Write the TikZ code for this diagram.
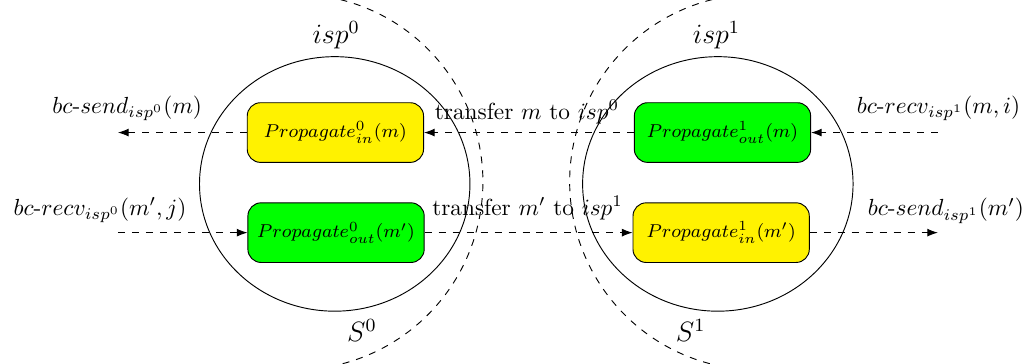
\documentclass[tikz,border=0pt]{standalone}
\usepackage{amsmath,amssymb}
\usepackage{tikz}
\usetikzlibrary{positioning,arrows.meta,calc}

\begin{document}
\begin{tikzpicture}[
    proc/.style={
        rectangle,
        rounded corners=2mm,
        draw,
        minimum width=2.66cm,
        minimum height=0.9cm,
        inner sep=1pt,
        font=\fontsize{8.4}{10}\selectfont
    },
    msg/.style={
        dashed,
        -{Latex[length=1.6mm,width=1.2mm]}
    },
    lbl/.style={
        inner sep=0pt
    },
    side/.style={
        inner sep=0pt,
        font=\large
    }
]
\useasboundingbox (0,0) rectangle (15.57,5.49);

% The two processes and their borders
\draw (5.05,2.715) ellipse (2.04 and 1.92);
\draw (10.83,2.715) ellipse (2.04 and 1.92);
\draw[dashed] ([shift={(76:2.835)}]4.45,2.745) arc (76:-76:2.835);
\draw[dashed] ([shift={(104:2.835)}]11.43,2.745) arc (104:256:2.835);

\node[side] (isp0) at (5.07,4.96) {$isp^0$};
\node[side] (isp1) at (10.81,4.96) {$isp^1$};
\node[side] (S0) at (5.46,0.51) {$S^0$};
\node[side] (S1) at (10.42,0.51) {$S^1$};

% The four propagation steps
\node[proc, fill=yellow] (in0)  at (5.06,3.49) {$Propagate^0_{in}(m)$};
\node[proc, fill=green]  (out0) at (5.07,1.98) {$Propagate^0_{out}(m')$};
\node[proc, fill=green]  (out1) at (10.90,3.49) {$Propagate^1_{out}(m)$};
\node[proc, fill=yellow] (in1)  at (10.88,1.98) {$Propagate^1_{in}(m')$};

% Free ends of the outer arrows
\coordinate (sendend0) at (1.78,3.49);
\coordinate (recvend0) at (1.78,1.98);
\coordinate (recvend1) at (14.15,3.49);
\coordinate (sendend1) at (14.15,1.98);

% Messages from right to left
\draw[msg] (recvend1) -- (out1);
\draw[msg] (out1) -- (in0);
\draw[msg] (in0) -- (sendend0);

% Messages from left to right
\draw[msg] (recvend0) -- (out0);
\draw[msg] (out0) -- (in1);
\draw[msg] (in1) -- (sendend1);

% Labels of the messages
\node[lbl] (sendlbl0) at (1.92,3.86) {$bc\text{-}send_{isp^0}(m)$};
\node[lbl] (recvlbl0) at (1.51,2.32) {$bc\text{-}recv_{isp^0}(m',j)$};
\node[lbl] (recvlbl1) at (14.16,3.86) {$bc\text{-}recv_{isp^1}(m,i)$};
\node[lbl] (sendlbl1) at (14.27,2.31) {$bc\text{-}send_{isp^1}(m')$};
\node[lbl] (xfer0) at (7.95,3.80) {transfer $m$ to $isp^0$};
\node[lbl] (xfer1) at (7.96,2.35) {transfer $m'$ to $isp^1$};
\end{tikzpicture}
\end{document}
